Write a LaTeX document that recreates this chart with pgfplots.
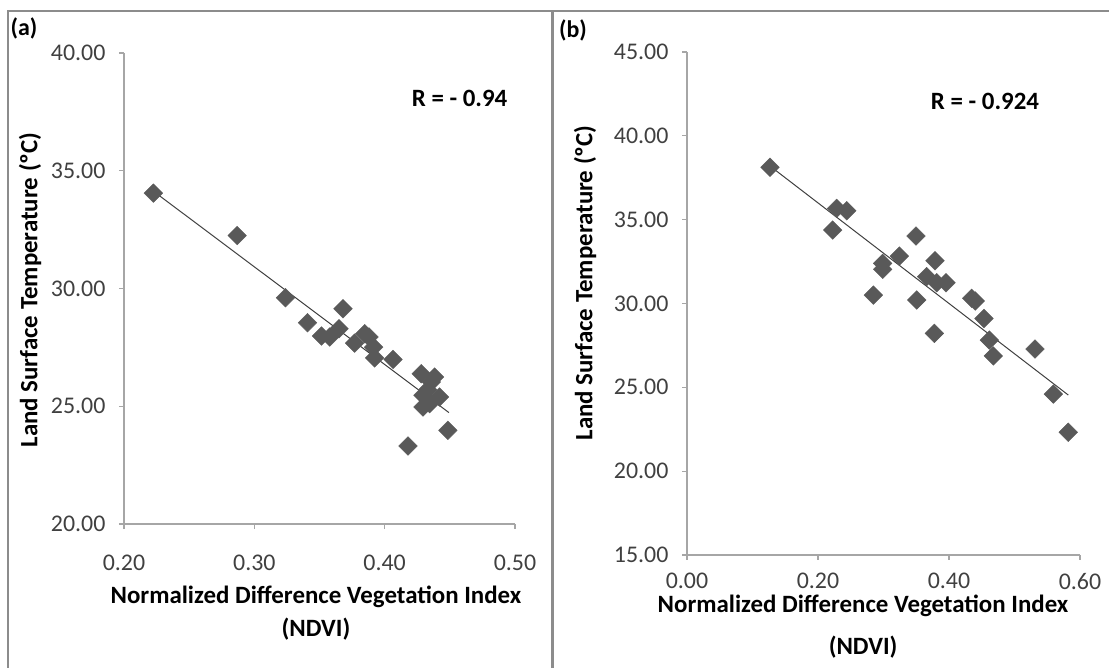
\documentclass[border=0pt]{standalone}
\usepackage{fontspec}
\setmainfont{Carlito}
\usepackage{pgfplots}
\pgfplotsset{compat=1.18}
\usepackage{pgfplotstable}

\definecolor{framegray}{HTML}{8C8C8C}
\definecolor{axisgray}{HTML}{A6A6A6}
\definecolor{ticktext}{HTML}{404040}
\definecolor{markgray}{HTML}{595959}
\definecolor{trendgray}{HTML}{404040}

% panel (a): NDVI vs LST
\pgfplotstableread{
x      y
0.2225 34.05
0.2868 32.25
0.3239 29.61
0.3680 29.14
0.3408 28.55
0.3515 27.98
0.3579 27.94
0.3650 28.29
0.3770 27.68
0.3847 28.08
0.3880 27.94
0.3916 27.51
0.3923 27.05
0.4064 26.99
0.4281 26.38
0.4383 26.24
0.4358 26.03
0.4330 25.70
0.4294 25.47
0.4421 25.39
0.4294 24.97
0.4345 25.11
0.4485 23.98
0.4179 23.31
}\dataA

% panel (b)
\pgfplotstableread{
x      y
0.1267 38.12
0.2285 35.67
0.2438 35.53
0.2224 34.38
0.3496 34.02
0.3242 32.83
0.2987 32.39
0.2987 32.04
0.3786 32.55
0.3659 31.60
0.3812 31.24
0.3954 31.24
0.2845 30.50
0.3507 30.21
0.4346 30.31
0.4400 30.15
0.4534 29.11
0.3776 28.22
0.4616 27.82
0.4677 26.87
0.5313 27.28
0.5593 24.60
0.5821 22.32
}\dataB

\pgfplotsset{
  panel/.style={
    scale only axis,
    axis lines=left,
    axis line style={-, axisgray, line width=1.2bp},
    tick style={axisgray, line width=1.2bp},
    tick align=outside,
    major tick length=5bp,
    ticklabel style={font=\fontsize{24}{28}\selectfont, text=ticktext},
    /pgf/number format/.cd, fixed, fixed zerofill, precision=2, assume math mode=true,
    /pgfplots/.cd,
    yticklabel style={xshift=-10bp},
    label style={font=\bfseries\fontsize{25}{28}\selectfont, text=black, inner sep=1bp},
    clip=false,
  },
  pts/.style={only marks, mark=square*, mark size=6.6bp,
    mark options={rotate=45, fill=markgray, draw=markgray}},
  trend/.style={no markers, trendgray, line width=1bp},
}

\begin{document}
\begin{tikzpicture}
\useasboundingbox (0bp,0bp) rectangle (1109bp,668bp);

% frame
\draw[framegray, line width=1.5bp] (8bp,0bp) -- (8bp,657bp) -- (1109bp,657bp);
\draw[framegray, line width=3bp] (552bp,0bp) -- (552bp,657bp);

\node[font=\bfseries\fontsize{24}{28}\selectfont] at (24bp,640bp) {(a)};
\node[font=\bfseries\fontsize{24}{28}\selectfont] at (573bp,638bp) {(b)};

\begin{axis}[panel,
  at={(124bp,144bp)}, anchor=south west,
  width=391bp, height=471bp,
  xmin=0.2, xmax=0.5, ymin=20, ymax=40,
  xtick={0.2,0.3,0.4,0.5}, ytick={20,25,30,35,40},
  xticklabel style={inner sep=1bp, yshift=-25bp},
  xlabel={Normalized Difference Vegetation Index\\[5bp](NDVI)},
  xlabel style={align=center, at={(axis description cs:0.491,-0.19)}, anchor=center},
  ylabel={Land Surface Temperature (ºC)},
  ylabel style={at={(axis description cs:-0.24,0.497)}, anchor=center},
]
\addplot[pts] table[x=x, y=y] {\dataA};
\addplot[trend] coordinates {(0.2238,34.08) (0.4493,24.73)};
\node[font=\bfseries\fontsize{25}{28}\selectfont] at (axis cs:0.4575,38.09) {R = - 0.94};
\end{axis}

\begin{axis}[panel,
  at={(687bp,113bp)}, anchor=south west,
  width=393bp, height=503bp,
  xmin=0, xmax=0.6, ymin=15, ymax=45,
  xtick={0,0.2,0.4,0.6}, ytick={15,20,25,30,35,40,45},
  xticklabel style={inner sep=1bp, yshift=-12bp},
  xlabel={Normalized Difference Vegetation Index\\[14bp](NDVI)},
  xlabel style={align=center, at={(axis description cs:0.448,-0.143)}, anchor=center},
  ylabel={Land Surface Temperature (ºC)},
  ylabel style={at={(axis description cs:-0.2595,0.541)}, anchor=center},
]
\addplot[pts] table[x=x, y=y] {\dataB};
\addplot[trend] coordinates {(0.1293,38.12) (0.5821,24.54)};
\node[font=\bfseries\fontsize{25}{28}\selectfont] at (axis cs:0.455,42.07) {R = - 0.924};
\end{axis}
\end{tikzpicture}
\end{document}
